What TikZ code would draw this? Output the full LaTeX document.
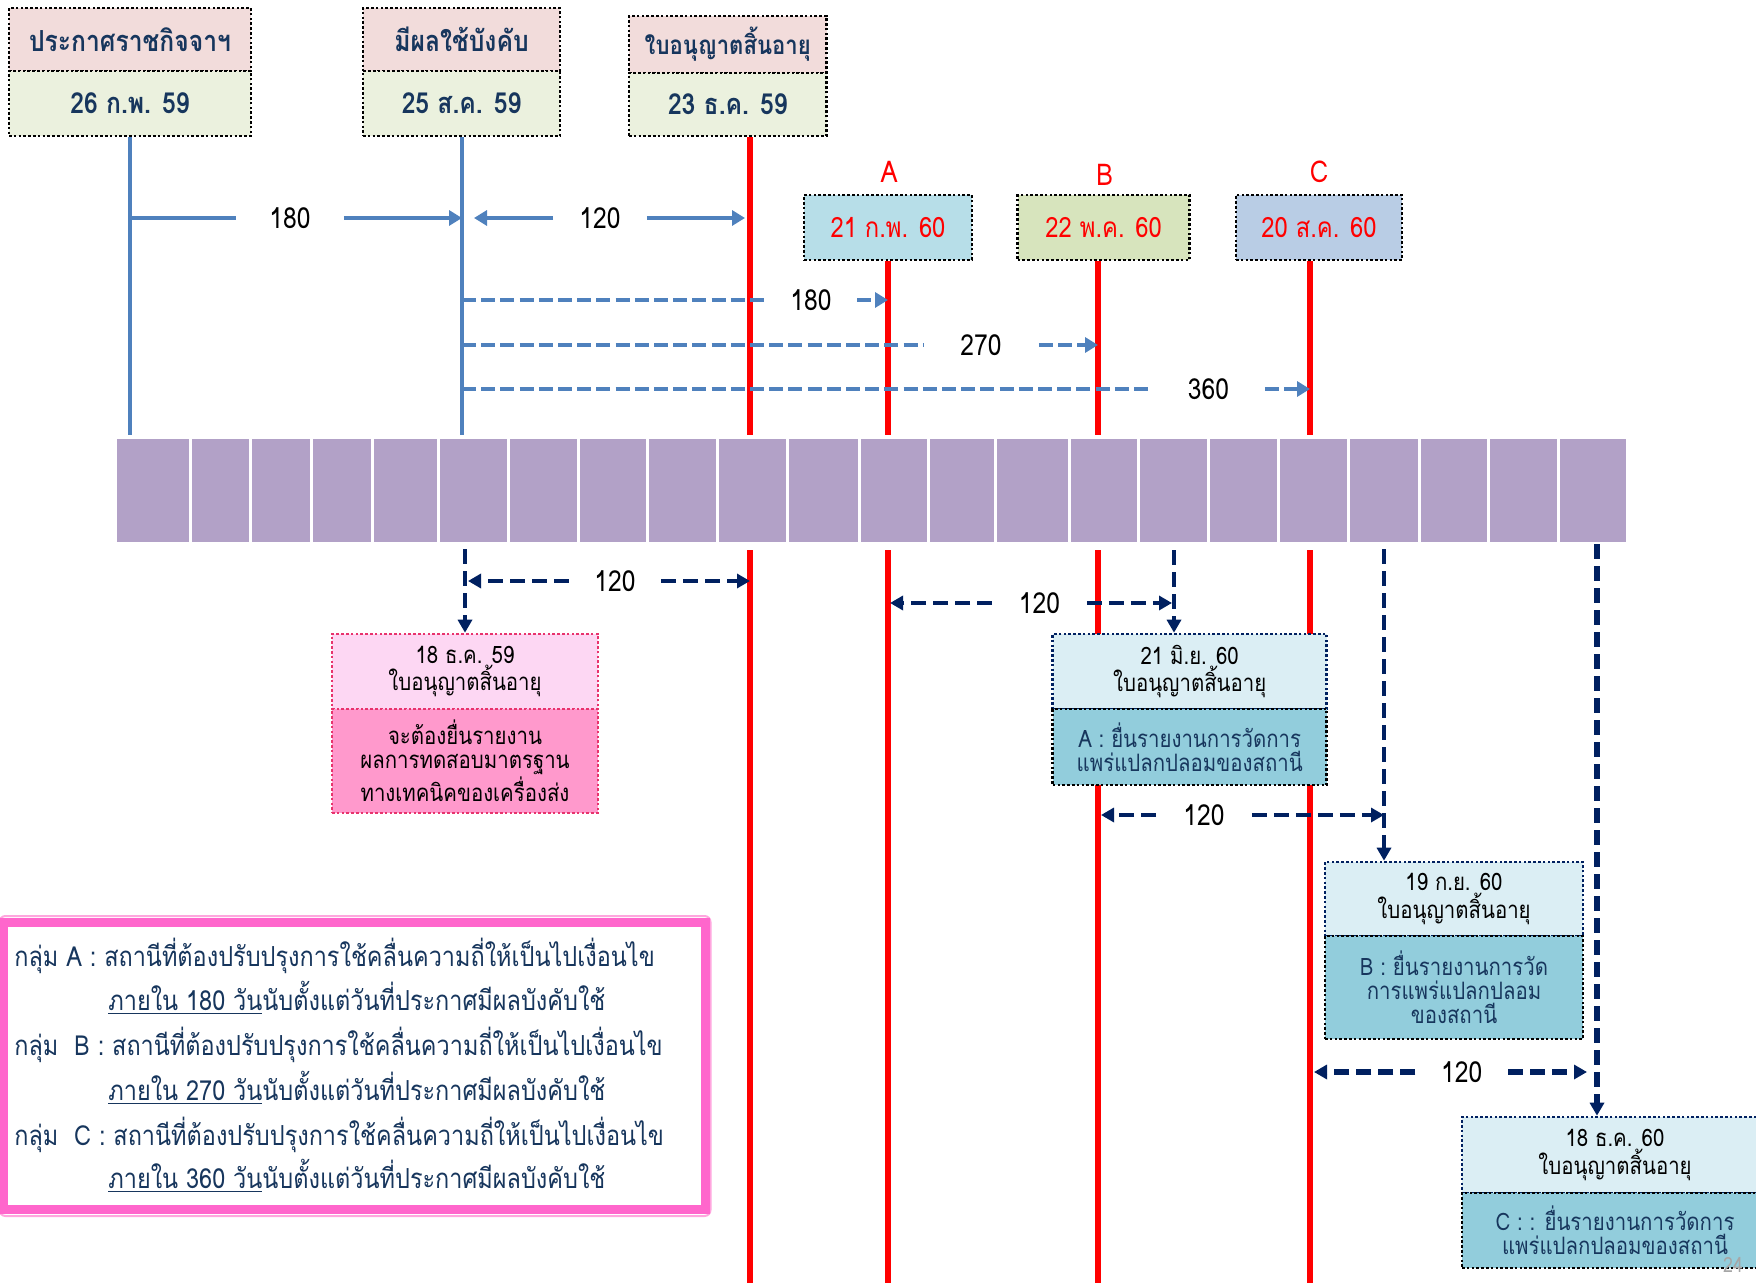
\documentclass[tikz,border=0pt]{standalone}
\usepackage{fontspec}
\setmainfont[Script=Thai,FakeStretch=0.85]{Loma}
\usetikzlibrary{arrows.meta}
\definecolor{navyt}{HTML}{17365D}
\definecolor{pinkt}{HTML}{F2DCDB}
\definecolor{greent}{HTML}{EBF1DE}
\definecolor{boxa}{HTML}{B7DEE8}
\definecolor{boxb}{HTML}{D7E4BD}
\definecolor{boxc}{HTML}{B9CDE5}
\definecolor{blueln}{HTML}{4F81BD}
\definecolor{redln}{HTML}{FF0000}
\definecolor{purp}{HTML}{B2A1C7}
\definecolor{navyln}{HTML}{002060}
\definecolor{ltblue}{HTML}{DBEEF4}
\definecolor{midblue}{HTML}{92CDDC}
\definecolor{ltpink}{HTML}{FDD7F3}
\definecolor{hotpink}{HTML}{FF99CC}
\definecolor{crim}{HTML}{E8336D}
\definecolor{legpink}{HTML}{FF66CC}
\definecolor{legpinkl}{HTML}{FFA6DE}
\definecolor{pgrey}{HTML}{A6A6A6}
\tikzset{
  dotb/.style={draw, line width=1.3pt, dash pattern=on 1.3pt off 1.1pt, inner sep=0pt, align=center},
  tbox/.style={dotb, text=navyt, font=\fontsize{14.5}{16}\selectfont\bfseries},
  dbox/.style={dotb, text=redln, font=\fontsize{14}{16}\selectfont, fill=#1},
  sbox/.style={dotb, font=\fontsize{12}{12}\selectfont},
  lbl/.style={inner sep=0pt, font=\fontsize{14.5}{16}\selectfont, text=black},
  bluesolid/.style={draw=blueln, line width=1.7pt},
  redv/.style={draw=redln, line width=2.7pt},
  bluedash/.style={draw=blueln, line width=1.7pt, dash pattern=on 7pt off 2.6pt},
  navydash/.style={draw=navyln, line width=2pt, dash pattern=on 7.5pt off 3.5pt},
  tipb/.style={-{Triangle[length=6.5pt,width=7.5pt]}},
  tipn/.style={-{Triangle[length=6.5pt,width=7pt]}},
  legtxt/.style={anchor=base west, inner sep=0pt, text=navyt, font=\fontsize{13.8}{16}\selectfont},
  abc/.style={text=redln, font=\fontsize{15}{17}\selectfont, inner sep=0pt}
}
\begin{document}
\begin{tikzpicture}[x=0.5pt,y=-0.5pt]
\useasboundingbox (0,0) rectangle (1756,1283);
% x positions of vertical lines
\coordinate (xB1) at (130,0);
\coordinate (xB2) at (462,0);
\coordinate (xR0) at (750,0);
\coordinate (xRA) at (888,0);
\coordinate (xRB) at (1098,0);
\coordinate (xRC) at (1310,0);
\coordinate (xv1) at (465,0);
\coordinate (xv2) at (1174,0);
\coordinate (xv3) at (1384,0);
\coordinate (xv4) at (1597,0);
\coordinate (bot) at (0,1283);

% top boxes
\node[tbox, fill=pinkt, minimum width=121pt, minimum height=31.5pt] (b1t) at (130,39.5) {ประกาศราชกิจจาฯ};
\node[tbox, fill=greent, minimum width=121pt, minimum height=32.5pt] (b1b) at (130,103.5) {26 ก.พ. 59};
\node[tbox, fill=pinkt, minimum width=98.5pt, minimum height=31.5pt] (b2t) at (461.5,39.5) {มีผลใช้บังคับ};
\node[tbox, fill=greent, minimum width=98.5pt, minimum height=32.5pt] (b2b) at (461.5,103.5) {25 ส.ค. 59};
\node[tbox, fill=pinkt, minimum width=98.75pt, minimum height=28.5pt, font=\fontsize{13}{15}\selectfont\bfseries] (b3t) at (727.75,44.5) {ใบอนุญาตสิ้นอายุ};
\node[tbox, fill=greent, minimum width=98.75pt, minimum height=31.5pt] (b3b) at (727.75,104.5) {23 ธ.ค. 59};

% A B C labels and boxes
\node[abc] (labA) at (889,172) {A};
\node[abc] (labB) at (1104.6,175) {B};
\node[abc] (labC) at (1319,172) {C};
\node[dbox=boxa, minimum width=84pt, minimum height=32.5pt] (bA) at (888,227.5) {21 ก.พ. 60};
\node[dbox=boxb, minimum width=86pt, minimum height=32.5pt] (bB) at (1103.6,227.5) {22 พ.ค. 60};
\node[dbox=boxc, minimum width=83pt, minimum height=32.5pt] (bC) at (1319,227.5) {20 ส.ค. 60};

% purple bar
\node[fill=purp, inner sep=0pt, minimum width=754.95pt, minimum height=51.5pt] (bar) at (871.45,490.5) {};
\foreach \x in {190.6,250.9,311.7,372,438,508,578,647.5,717.5,787.6,859.2,928.6,995,1069,1138.9,1208.8,1278.7,1348.6,1419,1488.4,1558.3}
  \draw[white, line width=1.5pt] (\x,439) -- (\x,542);

% vertical lines above the bar
\draw[bluesolid, shorten >=2pt] (b1b.south -| xB1) -- (bar.north -| xB1);
\draw[bluesolid, shorten >=2pt] (b2b.south -| xB2) -- (bar.north -| xB2);
\draw[redv, shorten >=2pt] (b3b.south -| xR0) -- (bar.north -| xR0);
\draw[redv, shorten >=2pt] (bA.south -| xRA) -- (bar.north -| xRA);
\draw[redv, shorten >=2pt] (bB.south -| xRB) -- (bar.north -| xRB);
\draw[redv, shorten >=2pt] (bC.south -| xRC) -- (bar.north -| xRC);
% red lines below the bar
\draw[redv, shorten <=4pt] (bar.south -| xR0) -- (bot -| xR0);
\draw[redv, shorten <=4pt] (bar.south -| xRA) -- (bot -| xRA);
\draw[redv, shorten <=4pt] (bar.south -| xRB) -- (bot -| xRB);
\draw[redv, shorten <=4pt] (bar.south -| xRC) -- (bot -| xRC);

% top solid arrows
\node[lbl, minimum width=53.5pt] (t180) at (290,218) {180};
\draw[bluesolid] (xB1 |- t180) -- (t180.west);
\draw[bluesolid, tipb] (t180.east) -- (xB2 |- t180);
\coordinate (t120L) at (474,218);
\coordinate (t120R) at (745,218);
\node[lbl, minimum width=46.5pt] (t120) at (600,218) {120};
\draw[bluesolid, tipb] (t120.west) -- (t120L);
\draw[bluesolid, tipb] (t120.east) -- (t120R);

% blue dashed arrows
\node[lbl, minimum width=46pt] (d180) at (811,300) {180};
\draw[bluedash] (xB2 |- d180) -- (d180.west);
\draw[bluedash, tipb] (d180.east) -- (xRA |- d180);
\node[lbl, minimum width=57.5pt] (d270) at (981,345) {270};
\draw[bluedash] (xB2 |- d270) -- (d270.west);
\draw[bluedash, tipb] (d270.east) -- (xRB |- d270);
\node[lbl, minimum width=56pt] (d360) at (1208.5,389) {360};
\draw[bluedash] (xB2 |- d360) -- (d360.west);
\draw[bluedash, tipb] (d360.east) -- (xRC |- d360);

% bottom boxes
\node[sbox, draw=crim, fill=ltpink, minimum width=133pt, minimum height=37.5pt] (pT) at (465,671.5) {18 ธ.ค. 59\\ใบอนุญาตสิ้นอายุ};
\node[sbox, draw=crim, fill=hotpink, minimum width=133pt, minimum height=52pt] (pB) at (465,761) {จะต้องยื่นรายงาน\\ผลการทดสอบมาตรฐาน\\ทางเทคนิคของเครื่องส่ง};
\node[sbox, draw=navyln, fill=ltblue, minimum width=137pt, minimum height=37.5pt] (aT) at (1189.7,671.5) {21 มิ.ย. 60\\ใบอนุญาตสิ้นอายุ};
\node[sbox, fill=midblue, text=navyt, minimum width=137pt, minimum height=38pt] (aB) at (1189.7,747) {A : ยื่นรายงานการวัดการ\\แพร่แปลกปลอมของสถานี};
\node[sbox, draw=navyln, fill=ltblue, minimum width=129pt, minimum height=37pt] (bT) at (1454,899) {19 ก.ย. 60\\ใบอนุญาตสิ้นอายุ};
\node[sbox, fill=midblue, text=navyt, minimum width=129pt, minimum height=51.5pt] (bBx) at (1454,987.5) {B : ยื่นรายงานการวัด\\การแพร่แปลกปลอม\\ของสถานี};
\node[sbox, draw=navyln, fill=ltblue, minimum width=153pt, minimum height=38pt] (cT) at (1615,1155) {18 ธ.ค. 60\\ใบอนุญาตสิ้นอายุ};
\node[sbox, fill=midblue, text=navyt, minimum width=153pt, minimum height=37.5pt] (cB) at (1615,1230.5) {C : : ยื่นรายงานการวัดการ\\แพร่แปลกปลอมของสถานี};

% navy vertical dashed arrows
\draw[navydash, tipn, shorten <=3.5pt] (bar.south -| xv1) -- (pT.north -| xv1);
\draw[navydash, tipn, shorten <=4pt] (bar.south -| xv2) -- (aT.north -| xv2);
\draw[navydash, tipn, shorten <=3.5pt] (bar.south -| xv3) -- (bT.north -| xv3);
\draw[navydash, line width=2.8pt, tipn, shorten <=1pt] (bar.south -| xv4) -- (cT.north -| xv4);

% navy horizontal 120 arrows
\coordinate (n1L) at (468,581);
\node[lbl, minimum width=46pt] (n1) at (615,581) {120};
\draw[navydash, tipn] (n1.west) -- (n1L);
\draw[navydash, tipn] (n1.east) -- (xR0 |- n1);
\coordinate (n2L) at (890,603);
\coordinate (n2R) at (1172,603);
\node[lbl, minimum width=47pt] (n2) at (1039.5,603) {120};
\draw[navydash, tipn] (n2.west) -- (n2L);
\draw[navydash, tipn] (n2.east) -- (n2R);
\coordinate (n3L) at (1101,815);
\node[lbl, minimum width=47.5pt] (n3) at (1204,815) {120};
\draw[navydash, tipn] (n3.west) -- (n3L);
\draw[navydash, tipn] (n3.east) -- (xv3 |- n3);
\coordinate (n4L) at (1314,1072);
\coordinate (n4R) at (1587,1072);
\node[lbl, minimum width=46pt] (n4) at (1461.7,1072) {120};
\draw[navydash, line width=2.8pt, tipn] (n4.west) -- (n4L);
\draw[navydash, line width=2.8pt, tipn] (n4.east) -- (n4R);

% page number
\node[text=pgrey, inner sep=0pt, font=\fontsize{10.5}{12}\selectfont] (pg) at (1733,1265) {24};

% legend
\node[draw=legpinkl, line width=1pt, rounded corners=3pt, minimum width=355.5pt, minimum height=150pt, inner sep=0pt] (legO) at (355,1066) {};
\node[draw=legpink, line width=4.5pt, fill=white, minimum width=351pt, minimum height=143.5pt, inner sep=0pt] (leg) at (354,1066) {};
\node[legtxt] (g1) at (14,966) {กลุ่ม A : สถานีที่ต้องปรับปรุงการใช้คลื่นความถี่ให้เป็นไปเงื่อนไข};
\node[legtxt] (g2) at (108,1010) {\underline{ภายใน 180 วัน}นับตั้งแต่วันที่ประกาศมีผลบังคับใช้};
\node[legtxt] (g3) at (14,1055) {กลุ่ม\ \ B : สถานีที่ต้องปรับปรุงการใช้คลื่นความถี่ให้เป็นไปเงื่อนไข};
\node[legtxt] (g4) at (108,1100) {\underline{ภายใน 270 วัน}นับตั้งแต่วันที่ประกาศมีผลบังคับใช้};
\node[legtxt] (g5) at (14,1145) {กลุ่ม\ \ C : สถานีที่ต้องปรับปรุงการใช้คลื่นความถี่ให้เป็นไปเงื่อนไข};
\node[legtxt] (g6) at (108,1188) {\underline{ภายใน 360 วัน}นับตั้งแต่วันที่ประกาศมีผลบังคับใช้};
\end{tikzpicture}
\end{document}
